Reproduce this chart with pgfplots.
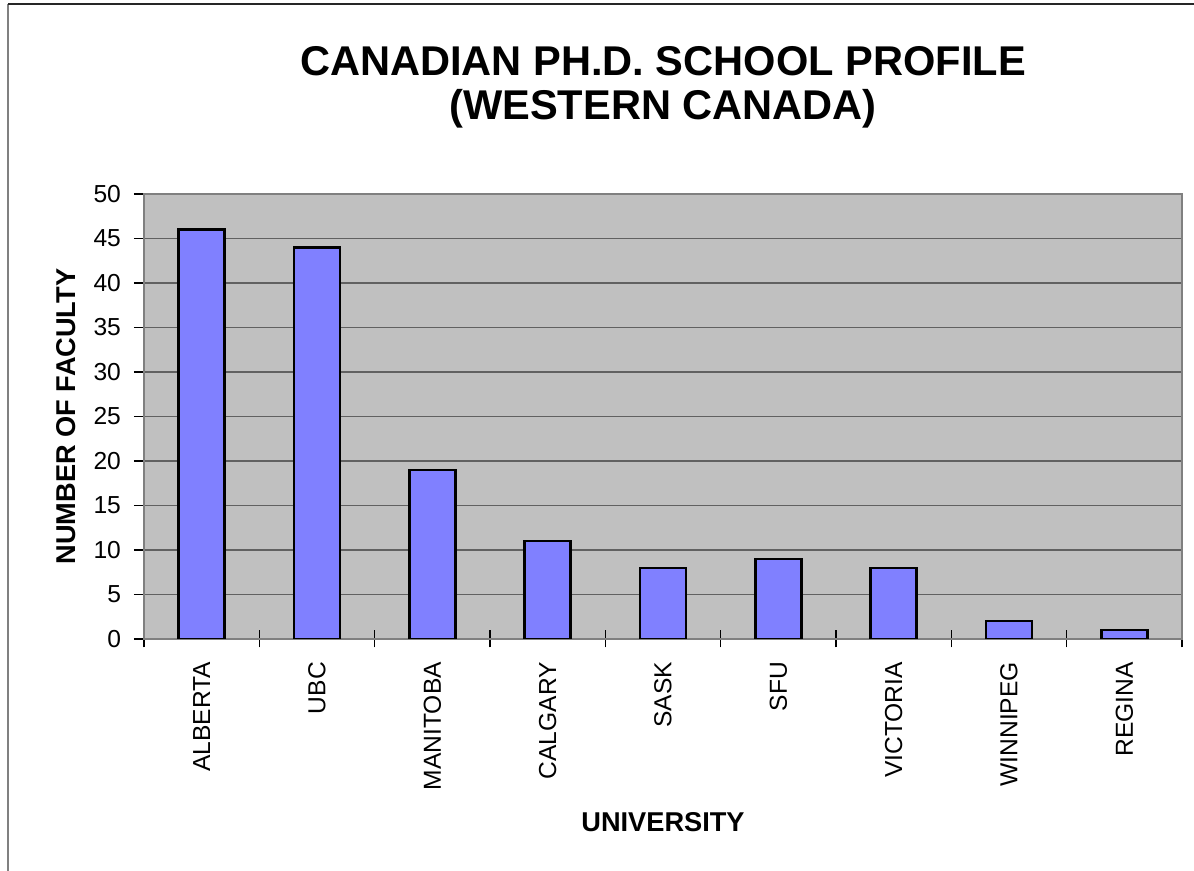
\documentclass[border=0pt]{standalone}
\usepackage{fontspec}
\setmainfont{Liberation Sans}
\usepackage{pgfplots}
\pgfplotsset{compat=1.18}
\definecolor{barblue}{HTML}{8080FF}
\definecolor{plotbg}{HTML}{C0C0C0}
\definecolor{framegray}{HTML}{808080}
\begin{document}
\begin{tikzpicture}
\begin{axis}[
  at={(0,0)}, anchor=south west,
  scale only axis,
  width=519pt, height=222.5pt,
  xmin=-0.5, xmax=8.5,
  ymin=0, ymax=50,
  ytick={0,5,...,50},
  xtick={0,1,2,3,4,5,6,7,8},
  xticklabels={ALBERTA,UBC,MANITOBA,CALGARY,SASK,SFU,VICTORIA,WINNIPEG,REGINA},
  xticklabel style={rotate=90, anchor=east, xshift=-5.5pt},
  yticklabel style={xshift=-3pt},
  minor xtick={-0.5,0.5,...,8.5},
  major tick length=5pt,
  minor tick length=8.5pt,
  major x tick style={draw=none},
  minor x tick style={black, line width=0.6pt},
  xtick pos=bottom, ytick pos=left,
  xtick align=center,
  y tick style={black, line width=0.6pt},
  ytick align=outside,
  ymajorgrids,
  y grid style={black!62, line width=0.6pt},
  axis background/.style={fill=plotbg},
  axis line style={framegray, line width=1pt},
  tick label style={font=\fontsize{12.3}{14}\selectfont},
  /pgf/number format/assume math mode=true,
  ylabel={NUMBER OF FACULTY},
  xlabel={UNIVERSITY},
  every axis y label/.style={at={(axis description cs:-0.0751,0.5)}, rotate=90, anchor=center, font=\bfseries\fontsize{13.6}{16}\selectfont},
  every axis x label/.style={at={(axis description cs:0.5,-0.4112)}, anchor=center, font=\bfseries\fontsize{13.6}{16}\selectfont},
  title={CANADIAN PH.D. SCHOOL PROFILE\\(WESTERN CANADA)},
  title style={at={(axis description cs:0.5,1.2124)}, anchor=center, align=center, font=\bfseries\fontsize{20.8}{21.8}\selectfont},
]
\addplot[ybar, bar width=0.4, fill=barblue, draw=black, line width=1.25pt] coordinates {
(0,46) (1,44) (2,19) (3,11) (4,8) (5,9) (6,8) (7,2) (8,1)
};
\end{axis}
\draw[framegray, line width=1pt] (-68pt,-116pt) -- (-68pt,317.5pt);
\draw[black!85, line width=1pt] (-68pt,317.5pt) -- (525pt,317.5pt);
\pgfresetboundingbox
\useasboundingbox (-72pt,-116pt) rectangle (525pt,319.5pt);
\end{tikzpicture}
\end{document}
